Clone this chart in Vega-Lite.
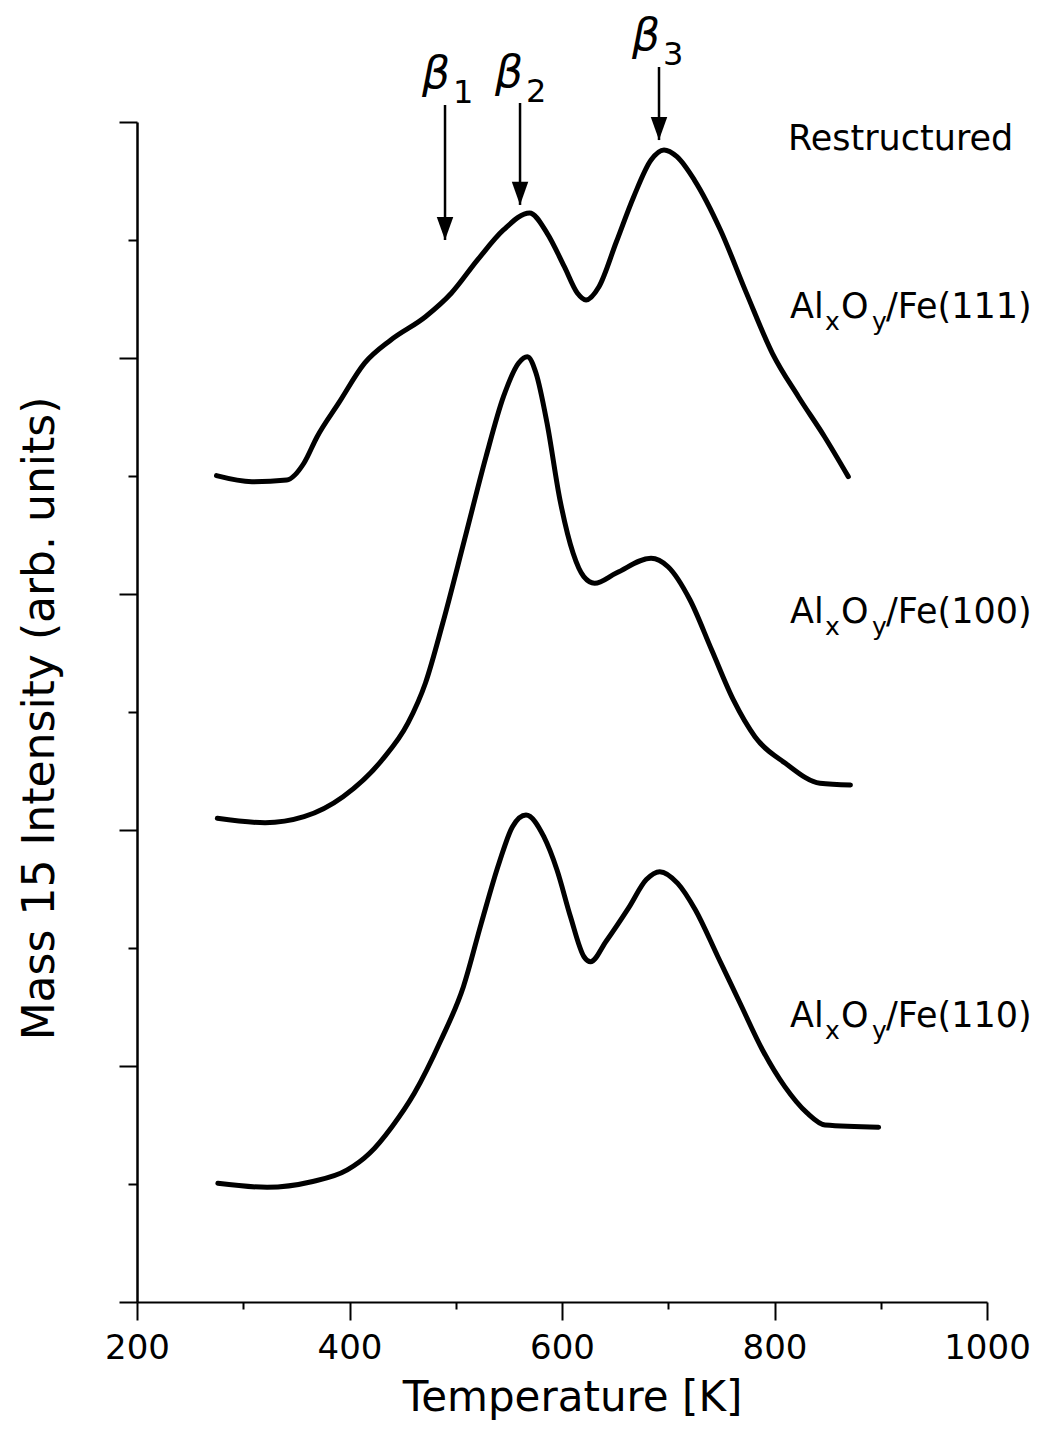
{
  "$schema": "https://vega.github.io/schema/vega-lite/v6.json",
  "width": 850,
  "height": 1180,
  "autosize": {"type": "none"},
  "padding": {"left": 137, "top": 122, "right": 74, "bottom": 130},
  "background": "white",
  "config": {"view": {"stroke": null}, "font": "DejaVu Sans"},
  "datasets": {
    "curves": [
      {"s": "111", "T": 274.8, "v": 7.003}, {"s": "111", "T": 308.2, "v": 6.952}, {"s": "111", "T": 340.9, "v": 6.966}, {"s": "111", "T": 357.2, "v": 7.11}, {"s": "111", "T": 369.4, "v": 7.331}, {"s": "111", "T": 389.9, "v": 7.619}, {"s": "111", "T": 414.4, "v": 7.958}, {"s": "111", "T": 438.9, "v": 8.153}, {"s": "111", "T": 471.5, "v": 8.35}, {"s": "111", "T": 496.0, "v": 8.551}, {"s": "111", "T": 520.5, "v": 8.831}, {"s": "111", "T": 544.9, "v": 9.085}, {"s": "111", "T": 569.5, "v": 9.229}, {"s": "111", "T": 585.9, "v": 9.059}, {"s": "111", "T": 602.2, "v": 8.774}, {"s": "111", "T": 614.4, "v": 8.551}, {"s": "111", "T": 622.6, "v": 8.492}, {"s": "111", "T": 634.8, "v": 8.604}, {"s": "111", "T": 651.1, "v": 8.983}, {"s": "111", "T": 667.5, "v": 9.367}, {"s": "111", "T": 683.8, "v": 9.678}, {"s": "111", "T": 696.0, "v": 9.763}, {"s": "111", "T": 708.2, "v": 9.706}, {"s": "111", "T": 724.6, "v": 9.508}, {"s": "111", "T": 749.1, "v": 9.085}, {"s": "111", "T": 773.6, "v": 8.55}, {"s": "111", "T": 798.0, "v": 8.04}, {"s": "111", "T": 822.5, "v": 7.672}, {"s": "111", "T": 847.1, "v": 7.333}, {"s": "111", "T": 869.5, "v": 6.994},
      {"s": "100", "T": 275.6, "v": 4.099}, {"s": "100", "T": 320.5, "v": 4.062}, {"s": "100", "T": 357.2, "v": 4.113}, {"s": "100", "T": 393.9, "v": 4.282}, {"s": "100", "T": 430.6, "v": 4.593}, {"s": "100", "T": 455.1, "v": 4.907}, {"s": "100", "T": 471.5, "v": 5.246}, {"s": "100", "T": 487.8, "v": 5.754}, {"s": "100", "T": 508.2, "v": 6.458}, {"s": "100", "T": 528.5, "v": 7.164}, {"s": "100", "T": 544.9, "v": 7.672}, {"s": "100", "T": 559.2, "v": 7.958}, {"s": "100", "T": 567.4, "v": 8.011}, {"s": "100", "T": 575.5, "v": 7.873}, {"s": "100", "T": 585.9, "v": 7.449}, {"s": "100", "T": 598.1, "v": 6.797}, {"s": "100", "T": 610.4, "v": 6.347}, {"s": "100", "T": 620.5, "v": 6.147}, {"s": "100", "T": 630.7, "v": 6.091}, {"s": "100", "T": 651.1, "v": 6.178}, {"s": "100", "T": 683.8, "v": 6.303}, {"s": "100", "T": 699.8, "v": 6.231}, {"s": "100", "T": 720.5, "v": 5.949}, {"s": "100", "T": 740.9, "v": 5.525}, {"s": "100", "T": 761.3, "v": 5.102}, {"s": "100", "T": 781.6, "v": 4.791}, {"s": "100", "T": 810.3, "v": 4.565}, {"s": "100", "T": 842.8, "v": 4.396}, {"s": "100", "T": 871.5, "v": 4.381},
      {"s": "110", "T": 276.1, "v": 1.006}, {"s": "110", "T": 322.4, "v": 0.972}, {"s": "110", "T": 364.3, "v": 1.019}, {"s": "110", "T": 397.9, "v": 1.119}, {"s": "110", "T": 418.9, "v": 1.26}, {"s": "110", "T": 440.0, "v": 1.486}, {"s": "110", "T": 461.0, "v": 1.769}, {"s": "110", "T": 486.1, "v": 2.22}, {"s": "110", "T": 507.2, "v": 2.672}, {"s": "110", "T": 524.0, "v": 3.209}, {"s": "110", "T": 540.7, "v": 3.718}, {"s": "110", "T": 553.4, "v": 4.028}, {"s": "110", "T": 566.1, "v": 4.127}, {"s": "110", "T": 582.9, "v": 3.943}, {"s": "110", "T": 595.3, "v": 3.661}, {"s": "110", "T": 608.0, "v": 3.265}, {"s": "110", "T": 620.7, "v": 2.926}, {"s": "110", "T": 626.9, "v": 2.884}, {"s": "110", "T": 641.7, "v": 3.06}, {"s": "110", "T": 662.7, "v": 3.34}, {"s": "110", "T": 679.4, "v": 3.58}, {"s": "110", "T": 692.0, "v": 3.647}, {"s": "110", "T": 708.9, "v": 3.548}, {"s": "110", "T": 725.6, "v": 3.322}, {"s": "110", "T": 746.7, "v": 2.926}, {"s": "110", "T": 767.5, "v": 2.534}, {"s": "110", "T": 788.7, "v": 2.136}, {"s": "110", "T": 809.7, "v": 1.825}, {"s": "110", "T": 830.6, "v": 1.602}, {"s": "110", "T": 847.5, "v": 1.5}, {"s": "110", "T": 898.0, "v": 1.481}
    ],
    "arrows": [
      {"T": 489.9, "top": 10.144, "tip": 9.0},
      {"T": 560.5, "top": 10.161, "tip": 9.297},
      {"T": 691.3, "top": 10.466, "tip": 9.847}
    ],
    "betas": [
      {"T": 468.2, "v": 10.288, "b": "β", "sub": "1"},
      {"T": 536.9, "v": 10.297, "b": "β", "sub": "2"},
      {"T": 665.9, "v": 10.61, "b": "β", "sub": "3"}
    ],
    "plain": [
      {"T": 812.7, "v": 9.763, "text": "Restructured"}
    ],
    "alox": [
      {"T": 814.6, "v": 8.339, "al": "Al", "x": "x", "o": "O", "y": "y", "face": "/Fe(111)"},
      {"T": 814.6, "v": 5.754, "al": "Al", "x": "x", "o": "O", "y": "y", "face": "/Fe(100)"},
      {"T": 814.6, "v": 2.331, "al": "Al", "x": "x", "o": "O", "y": "y", "face": "/Fe(110)"}
    ]
  },
  "layer": [
    {
      "data": {"name": "curves"},
      "mark": {"type": "line", "color": "black", "strokeWidth": 5, "interpolate": "monotone", "strokeCap": "round", "strokeJoin": "round"},
      "encoding": {
        "x": {"field": "T", "type": "quantitative", "scale": {"domain": [200, 1000], "nice": false},
          "axis": {"orient": "bottom", "values": [200, 400, 600, 800, 1000], "format": "d", "tickSize": 18, "tickWidth": 2, "tickColor": "black", "domainColor": "black", "domainWidth": 2, "grid": false,
            "labelFont": "DejaVu Sans", "labelFontSize": 34, "labelColor": "black", "labelBaseline": "alphabetic", "labelPadding": 38, "labelFlush": false, "labelOverlap": false,
            "title": "Temperature [K]", "titleFont": "DejaVu Sans", "titleFontSize": 42, "titleFontWeight": "normal", "titleColor": "black", "titleX": 435, "titleY": 108, "titleBaseline": "alphabetic", "titleAlign": "center"}},
        "y": {"field": "v", "type": "quantitative", "scale": {"domain": [0, 10], "nice": false, "zero": false},
          "axis": {"orient": "left", "values": [0, 2, 4, 6, 8, 10], "tickSize": 18, "tickWidth": 2, "tickColor": "black", "domainColor": "black", "domainWidth": 2.5, "grid": false, "labels": false,
            "title": "Mass 15 Intensity (arb. units)", "titleFont": "DejaVu Sans", "titleFontSize": 44, "titleFontWeight": "normal", "titleColor": "black", "titleAngle": -90, "titleX": -84, "titleY": 596, "titleBaseline": "alphabetic", "titleAlign": "center"}},
        "detail": {"field": "s", "type": "nominal"}
      }
    },
    {
      "data": {"name": "arrows"},
      "mark": {"type": "rule", "color": "black", "strokeWidth": 2.5},
      "encoding": {
        "x": {"field": "T", "type": "quantitative", "axis": {"orient": "bottom", "values": [300, 500, 700, 900], "tickSize": 7, "tickWidth": 2, "tickColor": "black", "domain": false, "labels": false, "grid": false, "title": null}},
        "y": {"field": "top", "type": "quantitative", "axis": {"orient": "left", "values": [1, 3, 5, 7, 9], "tickSize": 9, "tickWidth": 2, "tickColor": "black", "domain": false, "labels": false, "grid": false, "title": null}},
        "y2": {"field": "tip"}
      }
    },
    {
      "data": {"name": "arrows"},
      "mark": {"type": "point", "shape": "M-0.75,-2.1L0.75,-2.1L0,0Z", "size": 484, "filled": true, "color": "black", "opacity": 1, "strokeWidth": 0},
      "encoding": {
        "x": {"field": "T", "type": "quantitative", "axis": null},
        "y": {"field": "tip", "type": "quantitative", "axis": null}
      }
    },
    {
      "data": {"name": "betas"},
      "mark": {"type": "text", "align": "left", "baseline": "alphabetic", "font": "DejaVu Sans", "fontSize": 44, "fontStyle": "italic", "color": "black"},
      "encoding": {
        "x": {"field": "T", "type": "quantitative", "axis": null},
        "y": {"field": "v", "type": "quantitative", "axis": null},
        "text": {"field": "b"}
      }
    },
    {
      "data": {"name": "betas"},
      "mark": {"type": "text", "align": "left", "baseline": "alphabetic", "font": "DejaVu Sans", "fontSize": 32, "dx": 31, "dy": 15, "color": "black"},
      "encoding": {
        "x": {"field": "T", "type": "quantitative", "axis": null},
        "y": {"field": "v", "type": "quantitative", "axis": null},
        "text": {"field": "sub"}
      }
    },
    {
      "data": {"name": "plain"},
      "mark": {"type": "text", "align": "left", "baseline": "alphabetic", "font": "DejaVu Sans", "fontSize": 35, "color": "black"},
      "encoding": {
        "x": {"field": "T", "type": "quantitative", "axis": null},
        "y": {"field": "v", "type": "quantitative", "axis": null},
        "text": {"field": "text"}
      }
    },
    {
      "data": {"name": "alox"},
      "mark": {"type": "text", "align": "left", "baseline": "alphabetic", "font": "DejaVu Sans", "fontSize": 35, "color": "black"},
      "encoding": {
        "x": {"field": "T", "type": "quantitative", "axis": null},
        "y": {"field": "v", "type": "quantitative", "axis": null},
        "text": {"field": "al"}
      }
    },
    {
      "data": {"name": "alox"},
      "mark": {"type": "text", "align": "left", "baseline": "alphabetic", "font": "DejaVu Sans", "fontSize": 25, "dx": 35, "dy": 12, "color": "black"},
      "encoding": {
        "x": {"field": "T", "type": "quantitative", "axis": null},
        "y": {"field": "v", "type": "quantitative", "axis": null},
        "text": {"field": "x"}
      }
    },
    {
      "data": {"name": "alox"},
      "mark": {"type": "text", "align": "left", "baseline": "alphabetic", "font": "DejaVu Sans", "fontSize": 35, "dx": 51, "color": "black"},
      "encoding": {
        "x": {"field": "T", "type": "quantitative", "axis": null},
        "y": {"field": "v", "type": "quantitative", "axis": null},
        "text": {"field": "o"}
      }
    },
    {
      "data": {"name": "alox"},
      "mark": {"type": "text", "align": "left", "baseline": "alphabetic", "font": "DejaVu Sans", "fontSize": 25, "dx": 82, "dy": 12, "color": "black"},
      "encoding": {
        "x": {"field": "T", "type": "quantitative", "axis": null},
        "y": {"field": "v", "type": "quantitative", "axis": null},
        "text": {"field": "y"}
      }
    },
    {
      "data": {"name": "alox"},
      "mark": {"type": "text", "align": "left", "baseline": "alphabetic", "font": "DejaVu Sans", "fontSize": 35, "dx": 96, "color": "black"},
      "encoding": {
        "x": {"field": "T", "type": "quantitative", "axis": null},
        "y": {"field": "v", "type": "quantitative", "axis": null},
        "text": {"field": "face"}
      }
    }
  ],
  "resolve": {"axis": {"x": "independent", "y": "independent"}}
}
